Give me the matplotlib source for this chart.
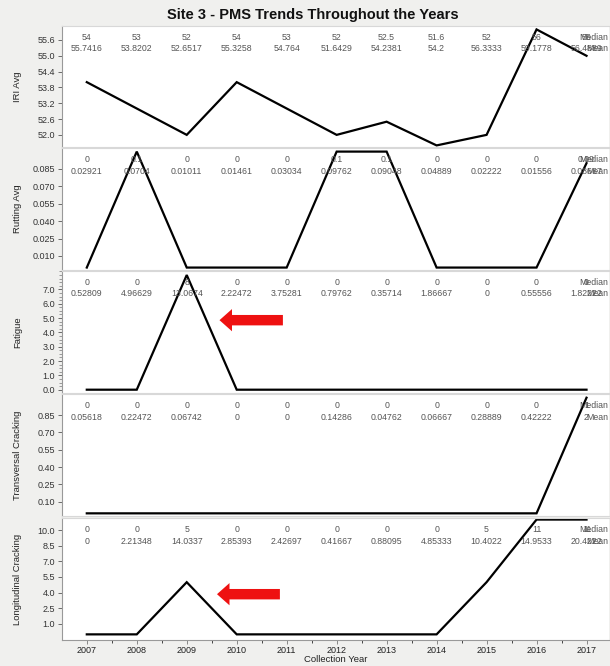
import matplotlib.pyplot as plt
import matplotlib.ticker as mticker
import numpy as np

# Data (medians drawn as lines, medians/means printed as text rows)
years = [2007, 2008, 2009, 2010, 2011, 2012, 2013, 2014, 2015, 2016, 2017]

iri_median = [54, 53, 52, 54, 53, 52, 52.5, 51.6, 52, 56, 55]
iri_mean = ["55.7416", "53.8202", "52.6517", "55.3258", "54.764", "51.6429",
            "54.2381", "54.2", "56.3333", "59.1778", "56.4889"]

rut_median = [0, 0.1, 0, 0, 0, 0.1, 0.1, 0, 0, 0, 0.09]
rut_mean = ["0.02921", "0.0704", "0.01011", "0.01461", "0.03034", "0.09762",
            "0.09048", "0.04889", "0.02222", "0.01556", "0.08667"]

fat_median = [0, 0, 8, 0, 0, 0, 0, 0, 0, 0, 0]
fat_mean = ["0.52809", "4.96629", "13.0674", "2.22472", "3.75281", "0.79762",
            "0.35714", "1.86667", "0", "0.55556", "1.82222"]

trans_median = [0, 0, 0, 0, 0, 0, 0, 0, 0, 0, 1]
trans_mean = ["0.05618", "0.22472", "0.06742", "0", "0", "0.14286",
              "0.04762", "0.06667", "0.28889", "0.42222", "2"]

long_median = [0, 0, 5, 0, 0, 0, 0, 0, 5, 11, 11]
long_mean = ["0", "2.21348", "14.0337", "2.85393", "2.42697", "0.41667",
             "0.88095", "4.85333", "10.4022", "14.9533", "20.4222"]

panels = [
    ("IRI Avg", iri_median, iri_mean, (51.54, 56.13), np.arange(52.0, 55.7, 0.6), "%.1f", None),
    ("Rutting Avg", rut_median, rut_mean, (-0.0021, 0.1031), np.arange(0.010, 0.086, 0.015), "%.3f", None),
    ("Fatigue", fat_median, fat_mean, (-0.23, 8.28), np.arange(0, 7.1, 1.0), "%.1f", 0.25),
    ("Transversal Cracking", trans_median, trans_mean, (-0.023, 1.032), np.arange(0.10, 0.86, 0.15), "%.2f", None),
    ("Longitudinal Cracking", long_median, long_mean, (-0.54, 11.15), np.arange(1.0, 10.1, 1.5), "%.1f", None),
]

plt.rcParams['font.family'] = ['Liberation Sans', 'DejaVu Sans']
bg = '#f0f0ee'
fig = plt.figure(figsize=(6.1, 6.66), dpi=100, facecolor=bg)

W, H = 610.0, 666.0
left, right = 62, 609
tops = [26, 148, 271, 394, 518]
bottoms = [147, 270, 393, 516, 640]

axes = []
for i, (name, med, mean, ylim, yt, fmt, minor) in enumerate(panels):
    ax = fig.add_axes([left / W, 1 - bottoms[i] / H, (right - left) / W, (bottoms[i] - tops[i]) / H])
    axes.append(ax)
    ax.set_facecolor('white')
    ax.plot(years, med, color='black', lw=1.6, solid_joinstyle='miter', clip_on=False)
    ax.set_xlim(2006.504, 2017.45)
    ax.set_ylim(*ylim)
    ax.set_yticks(yt)
    ax.yaxis.set_major_formatter(mticker.FormatStrFormatter(fmt))
    if minor:
        ax.yaxis.set_minor_locator(mticker.MultipleLocator(minor))
    ax.tick_params(axis='y', labelsize=6.5, colors='#555555', labelcolor='#333333', length=3, width=0.6, pad=2)
    ax.tick_params(axis='y', which='minor', length=2, width=0.5, colors='#777777')
    ax.set_ylabel(name, fontsize=6.8, color='#222222')
    ax.yaxis.set_label_coords(-0.073, 0.5)
    for s in ['top', 'bottom', 'right']:
        ax.spines[s].set_color('#d8d8d8')
        ax.spines[s].set_linewidth(0.8)
    ax.spines['right'].set_visible(False)
    ax.spines['left'].set_color('#999999')
    ax.spines['left'].set_linewidth(0.8)

    h = bottoms[i] - tops[i]
    trans = ax.get_xaxis_transform()
    for x, m, mn in zip(years, med, mean):
        ax.text(x, 1 - 11.5 / h, f"{m:g}", transform=trans, ha='center', va='center',
                fontsize=6.3, color='#555555')
        ax.text(x, 1 - 23 / h, mn, transform=trans, ha='center', va='center',
                fontsize=6.3, color='#555555')
    ax.text(0.999, 1 - 11.5 / h, "Median", transform=ax.transAxes, ha='right', va='center',
            fontsize=6.3, color='#555555')
    ax.text(0.999, 1 - 23 / h, "Mean", transform=ax.transAxes, ha='right', va='center',
            fontsize=6.3, color='#555555')

    if i < 4:
        ax.tick_params(axis='x', bottom=False, labelbottom=False)
    else:
        ax.set_xticks(years)
        ax.xaxis.set_minor_locator(mticker.MultipleLocator(0.5))
        ax.tick_params(axis='x', labelsize=6.5, colors='#777777', labelcolor='#222222', length=3, width=0.6, pad=1.5)
        ax.tick_params(axis='x', which='minor', length=2, width=0.5)
        ax.spines['bottom'].set_color('#999999')
        ax.set_xlabel("Collection Year", fontsize=6.8, color='#222222', labelpad=0)

# red arrows pointing at the 2009 peaks
arrow_style = dict(arrowstyle='simple,head_length=0.9,head_width=1.6,tail_width=0.75',
                   color='#ee1111', lw=0)
axes[2].annotate('', xy=(2009.6, 4.85), xytext=(2010.98, 4.85), arrowprops=arrow_style)
axes[4].annotate('', xy=(2009.55, 3.85), xytext=(2010.92, 3.85), arrowprops=arrow_style)

fig.text(0.513, 1 - 15 / H, "Site 3 - PMS Trends Throughout the Years", ha='center', va='center',
         fontsize=10.5, fontweight='bold', color='#111111')

fig.savefig('out.png', dpi=100, facecolor=bg)
